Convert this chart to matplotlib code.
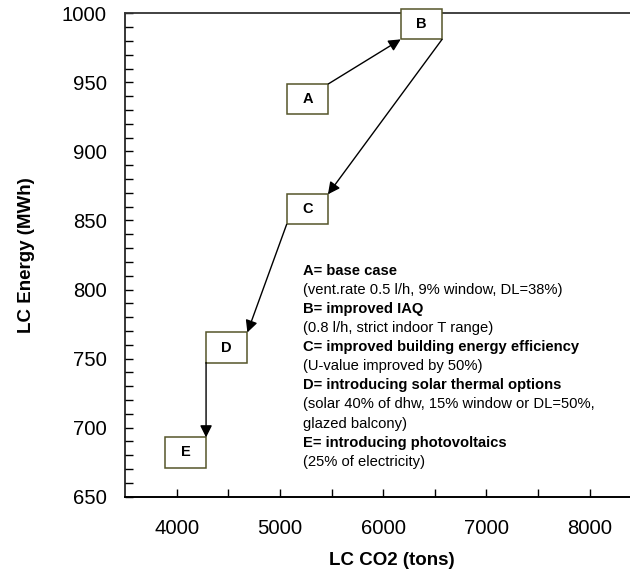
import matplotlib
matplotlib.use("Agg")
import matplotlib.pyplot as plt
from matplotlib.patches import Rectangle

plt.rcParams['font.family'] = ['Liberation Sans', 'DejaVu Sans']

# scenario points (box centres)
labels = ['A', 'B', 'C', 'D', 'E']
co2 = [5270, 6370, 5265, 4485, 4085]
energy = [938, 992, 858, 758, 682]

# arrows: (from, to, corner of start box, corner of end box)
steps = [(0, 1, (1, 1), (-1, -1)),
         (1, 2, (1, -1), (1, 1)),
         (2, 3, (-1, -1), (1, 1)),
         (3, 4, (-1, -1), (1, 1))]

notes = ['A= base case',
         '(vent.rate 0.5 l/h, 9% window, DL=38%)',
         'B= improved IAQ',
         '(0.8 l/h, strict indoor T range)',
         'C= improved building energy efficiency',
         '(U-value improved by 50%)',
         'D= introducing solar thermal options',
         '(solar 40% of dhw, 15% window or DL=50%,',
         'glazed balcony)',
         'E= introducing photovoltaics',
         '(25% of electricity)']
notes_bold = [True, False, True, False, True, False, True, False, False, True, False]

xticks = [4000, 5000, 6000, 7000, 8000]
yticks = [650, 700, 750, 800, 850, 900, 950, 1000]

fig = plt.figure(figsize=(6.3, 5.77), dpi=100)
ax = fig.add_axes([0.1984, 0.1392, 0.8016, 0.8378])
ax.set_xlim(3500, 8390)
ax.set_ylim(650, 1000)

half_w, half_h = 200, 10.9  # box half size in data units
box_col = '#55552a'

for lab, x, y in zip(labels, co2, energy):
    ax.add_patch(Rectangle((x - half_w, y - half_h), 2 * half_w, 2 * half_h,
                           facecolor='white', edgecolor=box_col, lw=1.1,
                           clip_on=False, zorder=3))
    ax.text(x, y, lab, ha='center', va='center', fontsize=10.5,
            fontweight='bold', zorder=4)

for i, j, c0, c1 in steps:
    p0 = (co2[i] + c0[0] * half_w, energy[i] + c0[1] * half_h)
    p1 = (co2[j] + c1[0] * half_w, energy[j] + c1[1] * half_h)
    ax.annotate('', xy=p1, xytext=p0,
                arrowprops=dict(arrowstyle='-|>', color='black', lw=1.0,
                                mutation_scale=18, shrinkA=0, shrinkB=0),
                annotation_clip=False, zorder=5)

y0 = 0.4673
dy = 0.0395
for k, (line, b) in enumerate(zip(notes, notes_bold)):
    ax.text(0.3525, y0 - k * dy, line, transform=ax.transAxes,
            ha='left', va='center', fontsize=10.6,
            fontweight='bold' if b else 'normal')

ax.set_xticks(xticks)
ax.set_xticks(range(4500, 8000, 1000), minor=True)
ax.set_yticks(yticks)
ax.set_yticks(range(650, 1001, 10), minor=True)
ax.tick_params(axis='both', which='both', direction='in', length=6, width=1.0)
ax.tick_params(axis='x', which='major', labelsize=14.6, pad=16)
ax.tick_params(axis='y', which='major', labelsize=14.6, pad=13)
ax.tick_params(top=False, right=False, which='both')

ax.spines['right'].set_visible(False)
ax.spines['top'].set_color('#333333')
ax.spines['top'].set_linewidth(1.3)
ax.spines['left'].set_linewidth(1.1)
ax.spines['bottom'].set_linewidth(1.4)

ax.set_xlabel('LC CO2 (tons)', fontsize=13.5, fontweight='bold', va='center')
ax.xaxis.set_label_coords(0.529, -0.133)
ax.set_ylabel('LC Energy (MWh)', fontsize=13.5, fontweight='bold', va='center')
ax.yaxis.set_label_coords(-0.196, 0.5)

fig.savefig('out.png', dpi=100)
